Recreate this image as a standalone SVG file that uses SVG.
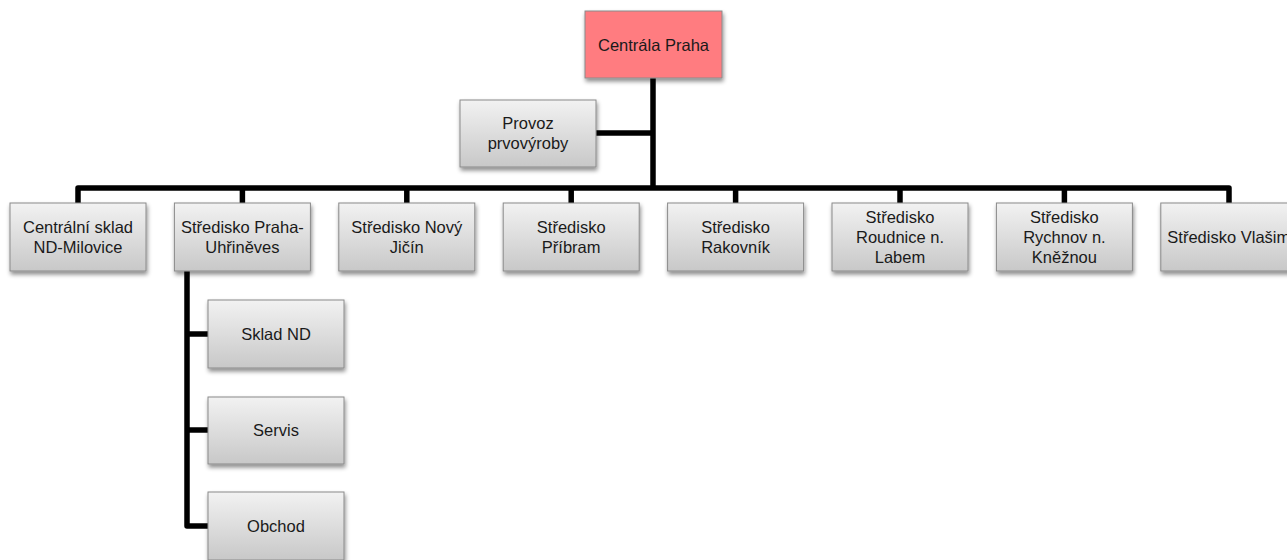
<svg xmlns="http://www.w3.org/2000/svg" width="1287" height="560" viewBox="0 0 1287 560">
<defs>
<linearGradient id="g" x1="0" y1="0" x2="0" y2="1">
<stop offset="0" stop-color="#f2f2f2"/>
<stop offset="1" stop-color="#c8c8c8"/>
</linearGradient>
<filter id="sh" x="-10%" y="-10%" width="125%" height="135%">
<feDropShadow dx="1" dy="3" stdDeviation="2" flood-color="#000" flood-opacity="0.45"/>
</filter>
<style>
.b{fill:url(#g);stroke:#8a8a8a;stroke-width:1;filter:url(#sh)}
.r{fill:#ff7c80;stroke:#8a8a8a;stroke-width:1;filter:url(#sh)}
.t{font-family:"Liberation Sans",Arial,sans-serif;font-size:16.5px;fill:#1a1a1a;text-anchor:middle}
.c{fill:none;stroke:#000;stroke-width:5.5;stroke-linejoin:round;stroke-linecap:butt}
</style>
</defs>
<rect width="1287" height="560" fill="#fff"/>
<g id="connectors">
<path class="c" d="M653 78 V188"/>
<path class="c" d="M596 133 H653"/>
<path class="c" d="M78 203 V188 H1229 V203"/>
<path class="c" d="M242.4 188 V203"/>
<path class="c" d="M406.8 188 V203"/>
<path class="c" d="M571.2 188 V203"/>
<path class="c" d="M735.6 188 V203"/>
<path class="c" d="M900 188 V203"/>
<path class="c" d="M1064.4 188 V203"/>
<path class="c" d="M187 271 V526 H208"/>
<path class="c" d="M187 334 H208"/>
<path class="c" d="M187 430 H208"/>
</g>
<g id="n-centrala"><rect class="r" x="585" y="11" width="137" height="67"/><text class="t" x="653.5" y="50.5">Centrála Praha</text></g>
<g id="n-provoz"><rect class="b" x="460" y="100" width="136" height="67"/><text class="t" x="528" y="129">Provoz</text><text class="t" x="528" y="149">prvovýroby</text></g>
<g id="n-sklad-milovice"><rect class="b" x="10" y="203" width="136" height="68"/><text class="t" x="78" y="233">Centrální sklad</text><text class="t" x="78" y="253">ND-Milovice</text></g>
<g id="n-uhrineves"><rect class="b" x="174.4" y="203" width="136" height="68"/><text class="t" x="242.4" y="233">Středisko Praha-</text><text class="t" x="242.4" y="253">Uhřiněves</text></g>
<g id="n-jicin"><rect class="b" x="338.8" y="203" width="136" height="68"/><text class="t" x="406.8" y="233">Středisko Nový</text><text class="t" x="406.8" y="253">Jičín</text></g>
<g id="n-pribram"><rect class="b" x="503.2" y="203" width="136" height="68"/><text class="t" x="571.2" y="233">Středisko</text><text class="t" x="571.2" y="253">Příbram</text></g>
<g id="n-rakovnik"><rect class="b" x="667.6" y="203" width="136" height="68"/><text class="t" x="735.6" y="233">Středisko</text><text class="t" x="735.6" y="253">Rakovník</text></g>
<g id="n-roudnice"><rect class="b" x="832" y="203" width="136" height="68"/><text class="t" x="900" y="223">Středisko</text><text class="t" x="900" y="243">Roudnice n.</text><text class="t" x="900" y="263">Labem</text></g>
<g id="n-rychnov"><rect class="b" x="996.4" y="203" width="136" height="68"/><text class="t" x="1064.4" y="223">Středisko</text><text class="t" x="1064.4" y="243">Rychnov n.</text><text class="t" x="1064.4" y="263">Kněžnou</text></g>
<g id="n-vlasim"><rect class="b" x="1160.8" y="203" width="136" height="68"/><text class="t" x="1228.8" y="243">Středisko Vlašim</text></g>
<g id="n-sklad-nd"><rect class="b" x="208" y="300" width="136" height="68"/><text class="t" x="276" y="340">Sklad ND</text></g>
<g id="n-servis"><rect class="b" x="208" y="397" width="136" height="67"/><text class="t" x="276" y="436">Servis</text></g>
<g id="n-obchod"><rect class="b" x="208" y="492" width="136" height="68"/><text class="t" x="276" y="532">Obchod</text></g>
</svg>
